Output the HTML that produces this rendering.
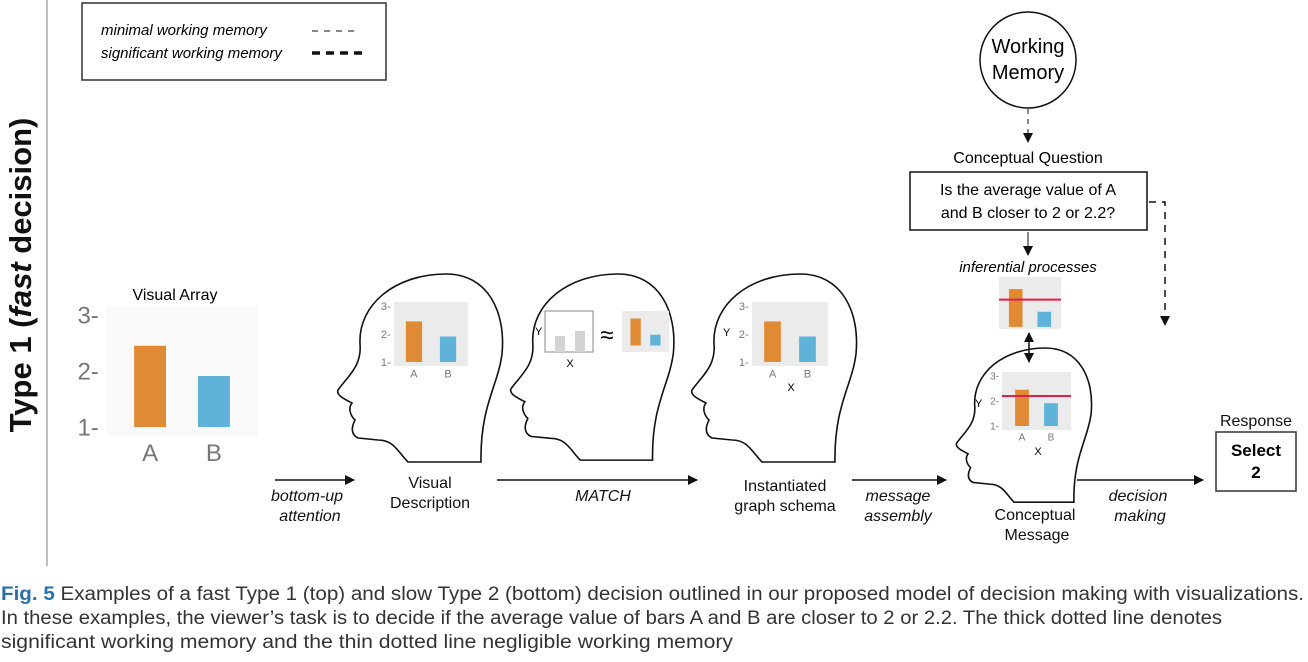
<!DOCTYPE html>
<html><head><meta charset="utf-8"><style>
body{margin:0;background:#fff;width:1308px;height:662px;overflow:hidden;font-family:"Liberation Sans",sans-serif}
svg{position:absolute;left:0;top:0}
</style></head><body>
<svg width="1308" height="662">
<defs>
<marker id="ah" markerWidth="10" markerHeight="10" refX="9" refY="5" orient="auto" markerUnits="userSpaceOnUse"><path d="M0,0 L10,5 L0,10 Z" fill="#111"/></marker>
<marker id="ahs" markerWidth="10" markerHeight="10" refX="1" refY="5" orient="auto" markerUnits="userSpaceOnUse"><path d="M10,0 L0,5 L10,10 Z" fill="#111"/></marker>
</defs>
<line x1="47" y1="0" x2="47" y2="566" stroke="#aaa" stroke-width="1.5"/>
<text transform="translate(31,275) rotate(-90)" text-anchor="middle" font-size="31" font-weight="bold" fill="#111">Type 1 (<tspan font-style="italic">fast</tspan> decision)</text>
<g>
<rect x="82" y="3" width="304" height="77" fill="#fff" stroke="#333" stroke-width="1.5"/>
<text x="101" y="35" font-size="15" font-style="italic">minimal working memory</text>
<line x1="312" y1="31" x2="358" y2="31" stroke="#111" stroke-width="1" stroke-dasharray="6,6"/>
<text x="101" y="58" font-size="15" font-style="italic">significant working memory</text>
<line x1="312" y1="53" x2="362" y2="53" stroke="#111" stroke-width="3.5" stroke-dasharray="8,6"/>
</g>
<g id="heads"></g>
<g id="charts"></g>
<g>
<rect x="545" y="311" width="48" height="41" fill="#fff" stroke="#888" stroke-width="1"/>
<rect x="555" y="336" width="10" height="16" fill="#d4d4d4"/>
<rect x="575" y="331" width="10" height="21" fill="#d4d4d4"/>
<text x="535" y="335" font-size="11">Y</text>
<text x="570" y="367" font-size="11" text-anchor="middle">X</text>
<text x="607" y="343" font-size="24" text-anchor="middle">≈</text>
</g>
<g>
<circle cx="1028" cy="60" r="48" fill="#fff" stroke="#111" stroke-width="1.5"/>
<text x="1028" y="53" font-size="20" text-anchor="middle">Working</text>
<text x="1028" y="79" font-size="20" text-anchor="middle">Memory</text>
</g>
<line x1="1028" y1="109" x2="1028" y2="142" stroke="#111" stroke-dasharray="5,5" marker-end="url(#ah)"/>
<text x="1028" y="163" font-size="16" text-anchor="middle">Conceptual Question</text>
<g>
<rect x="910" y="172" width="237" height="58" fill="#fff" stroke="#111" stroke-width="1.5"/>
<text x="1028" y="195" font-size="16" text-anchor="middle">Is the average value of A</text>
<text x="1028" y="218" font-size="16" text-anchor="middle">and B closer to 2 or 2.2?</text>
</g>
<line x1="1028" y1="232" x2="1028" y2="255" stroke="#111" marker-end="url(#ah)"/>
<text x="1028" y="272" font-size="15" font-style="italic" text-anchor="middle">inferential processes</text>
<path d="M1149,202 H1165 V325" fill="none" stroke="#111" stroke-width="1.5" stroke-dasharray="7,6" marker-end="url(#ah)"/>
<line x1="1029" y1="333" x2="1029" y2="362" stroke="#111" stroke-width="1.5" marker-end="url(#ah)" marker-start="url(#ahs)"/>
<text x="175" y="300" font-size="16" text-anchor="middle">Visual  Array</text>
<g font-size="16" text-anchor="middle" fill="#111">
<line x1="275" y1="480" x2="354" y2="480" stroke="#111" stroke-width="1.5" marker-end="url(#ah)"/>
<text x="307" y="501" font-style="italic">bottom-up</text><text x="310" y="521" font-style="italic">attention</text>
<text x="430" y="488">Visual</text><text x="430" y="508">Description</text>
<line x1="497" y1="480" x2="697" y2="480" stroke="#111" stroke-width="1.5" marker-end="url(#ah)"/>
<text x="603" y="501" font-style="italic">MATCH</text>
<text x="785" y="491">Instantiated</text><text x="785" y="511">graph schema</text>
<line x1="852" y1="480" x2="946" y2="480" stroke="#111" stroke-width="1.5" marker-end="url(#ah)"/>
<text x="898" y="501" font-style="italic">message</text><text x="898" y="521" font-style="italic">assembly</text>
<text x="1035" y="520">Conceptual</text><text x="1037" y="540">Message</text>
<line x1="1077" y1="480" x2="1203" y2="480" stroke="#111" stroke-width="1.5" marker-end="url(#ah)"/>
<text x="1138" y="501" font-style="italic">decision</text><text x="1140" y="521" font-style="italic">making</text>
<text x="1256" y="426">Response</text>
</g>
<g>
<rect x="1216" y="432" width="80" height="59" fill="#fff" stroke="#333" stroke-width="1.5"/>
<text x="1256" y="456" font-size="17" font-weight="bold" text-anchor="middle">Select</text>
<text x="1256" y="478" font-size="17" font-weight="bold" text-anchor="middle">2</text>
</g>
<g font-size="19" fill="#333">
<text x="1" y="600" textLength="1303" lengthAdjust="spacingAndGlyphs"><tspan font-weight="bold" fill="#2a6fa8">Fig. 5</tspan> Examples of a fast Type 1 (top) and slow Type 2 (bottom) decision outlined in our proposed model of decision making with visualizations.</text>
<text x="1" y="624" textLength="1221" lengthAdjust="spacingAndGlyphs">In these examples, the viewer’s task is to decide if the average value of bars A and B are closer to 2 or 2.2. The thick dotted line denotes</text>
<text x="1" y="648" textLength="732" lengthAdjust="spacingAndGlyphs">significant working memory and the thin dotted line negligible working memory</text>
</g>
</svg>
<script>
const categories=['A','B'];
const values=[2.45,1.91];
const ticks=[1,2,3];
const threshold=2.2;
const colors=['#e08a35','#5fb2d8'];
const NS='http://www.w3.org/2000/svg';
function mk(tag,attrs,parent){const e=document.createElementNS(NS,tag);for(const k in attrs)e.setAttribute(k,attrs[k]);parent.appendChild(e);return e;}
const headsG=document.getElementById('heads');
const headD="M72,188 C62,178 58,166 42,166 L22,164 C14,160 16,152 19,146 C14,141 12,134 16,129 C8,125 0,121 2,116 C12,102 26,92 24,70 C22,30 60,0 110,0 C152,0 170,38 166,80 C162,112 144,132 145,188 Z";
[[336,274,1],[509,274,0.99],[690,274,1],[955,348,0.82]].forEach((h,i)=>{
 const p=mk('path',{d:headD,transform:`translate(${h[0]},${h[1]}) scale(${h[2]})`,fill:'#fff',stroke:'#111','stroke-width':1.6/h[2]},headsG);
 
 
});
const cg=document.getElementById('charts');
function chart(o){
 const g=mk('g',{},cg);
 
 
 mk('rect',{x:o.x,y:o.y,width:o.w,height:o.h,fill:o.bg},g);
 const y=v=>o.y1-(v-1)*(o.y1-o.y3)/2;
 const bw=o.w*o.bwf, step=o.w/categories.length;
 if(o.ticks) ticks.forEach(t=>{
  const tx=mk('text',{x:o.x-o.fs*0.3,y:y(t)+o.fs*0.35,'font-size':o.fs,'text-anchor':'end',fill:'#777'},g);tx.textContent=t+'-';
  
  
 });
 categories.forEach((c,i)=>{
  const cx=o.x+step*(i+0.5)+(i?-1:1)*o.w*o.shift;
  const b=mk('rect',{x:cx-bw/2,y:y(values[i]),width:bw,height:y(o.base)-y(values[i]),fill:colors[i]},g);
  
  
  if(o.cats){const t=mk('text',{x:cx,y:o.y+o.h+o.fs*1.05,'font-size':o.fs,'text-anchor':'middle',fill:'#777'},g);t.textContent=c;
   
   }
 });
 if(o.red){const l=mk('line',{x1:o.x,x2:o.x+o.w,y1:y(threshold),y2:y(threshold),stroke:'#e0204a','stroke-width':2},g);
  
  }
 if(o.ylab){const t=mk('text',{x:o.ylab[0],y:o.ylab[1],'font-size':11},g);t.textContent='Y';}
 if(o.xlab){const t=mk('text',{x:o.xlab[0],y:o.xlab[1],'font-size':11,'text-anchor':'middle'},g);t.textContent='X';}
}
chart({name:'visual-array-chart',x:106,y:306,w:152,h:130,y1:427,y3:315,bg:'#f9f9f9',bwf:0.21,shift:0.04,ticks:1,cats:1,fs:24,base:1});
chart({name:'visual-description-chart',x:394,y:302,w:74,h:64,y1:362,y3:306,bg:'#ebebeb',bwf:0.22,shift:0.02,ticks:1,cats:1,fs:11,base:1});
chart({name:'match-visual-chart',x:622,y:311,w:47,h:41,y1:362,y3:302,bg:'#ebebeb',bwf:0.22,shift:0.04,fs:10,base:1.55});
chart({name:'graph-schema-chart',x:752,y:302,w:76,h:64,y1:362,y3:306,bg:'#ebebeb',bwf:0.22,shift:0.02,ticks:1,cats:1,fs:11,base:1,ylab:[723,336],xlab:[791,391]});
chart({name:'inferential-chart',x:999,y:277,w:62,h:52,y1:350,y3:266,bg:'#ebebeb',bwf:0.22,shift:0.02,fs:10,base:1.55,red:1});
chart({name:'conceptual-chart',x:1002,y:372,w:69,h:58,y1:426,y3:376,bg:'#ebebeb',bwf:0.2,shift:0.04,ticks:1,cats:1,fs:10,base:1,red:1,ylab:[975,407],xlab:[1038,455]});
</script>
</body></html>
